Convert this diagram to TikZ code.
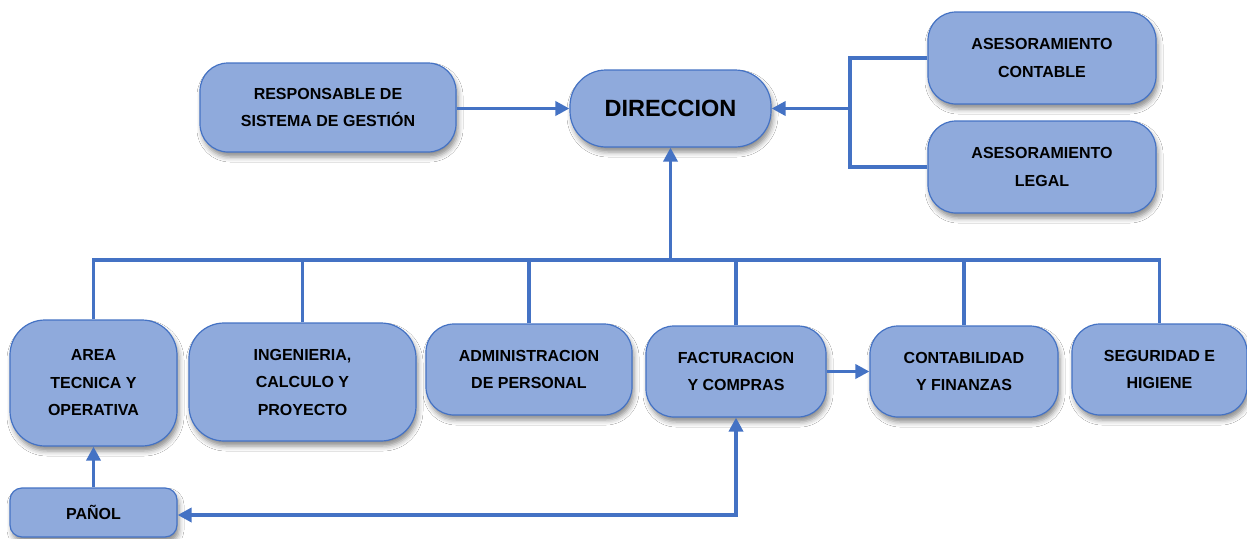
\documentclass[tikz,border=0pt]{standalone}
\usepackage{fontspec}
\setmainfont{Liberation Sans}
\usetikzlibrary{arrows.meta,shadows.blur}
\definecolor{boxfill}{HTML}{8FAADC}
\definecolor{boxline}{HTML}{4472C4}
\tikzset{
  box/.style={draw=boxline, line width=1.2pt, fill=boxfill, rounded corners=#1,
    align=center, inner sep=0pt,
    font=\bfseries\fontsize{16}{27.5}\selectfont,
    blur shadow={shadow xshift=2pt, shadow yshift=-5pt, shadow blur radius=5pt, shadow opacity=45}},
  box/.default=28pt,
  conn/.style={draw=boxline, line width=3.5pt},
  tip/.tip={Triangle[length=14pt,width=14pt]},
  arr/.style={conn, -tip},
}
\begin{document}
\begin{tikzpicture}[x=1pt,y=-1pt]
\useasboundingbox (0,0) rectangle (1247,538);
\fill[white] (0,0) rectangle (1247,538);
% nodes
\node[box, minimum width=256pt, minimum height=89pt] (resp) at (328,107.5) {RESPONSABLE DE\\SISTEMA DE GESTIÓN};
\node[box=36pt, minimum width=201pt, minimum height=77pt, font=\bfseries\fontsize{23.5}{28}\selectfont] (dir) at (670.5,108.5) {DIRECCION};
\node[box, minimum width=228pt, minimum height=92pt] (ac) at (1042,58) {ASESORAMIENTO\\CONTABLE};
\node[box, minimum width=228pt, minimum height=92pt] (al) at (1042,167) {ASESORAMIENTO\\LEGAL};
\node[box=35pt, minimum width=167pt, minimum height=126pt] (area) at (93.5,383) {AREA\\TECNICA Y\\OPERATIVA};
\node[box=35pt, minimum width=227pt, minimum height=118pt] (ing) at (302.5,382) {INGENIERIA,\\CALCULO Y\\PROYECTO};
\node[box, minimum width=206pt, minimum height=91pt] (adm) at (529,369.5) {ADMINISTRACION\\DE PERSONAL};
\node[box, minimum width=180pt, minimum height=91pt] (fac) at (736,371.5) {FACTURACION\\Y COMPRAS};
\node[box, minimum width=188pt, minimum height=91pt] (cont) at (964,371.5) {CONTABILIDAD\\Y FINANZAS};
\node[box, minimum width=175pt, minimum height=91pt] (seg) at (1159.5,369.5) {SEGURIDAD E\\HIGIENE};
\node[box=12pt, minimum width=167pt, minimum height=49pt] (panol) at (93.5,512.5) {PAÑOL};
% coordinates
\coordinate (br) at (850,108.5);
\coordinate (bus) at (670.5,260);
\coordinate (pf) at (736,515);
% connectors
\draw[arr] (resp.east |- dir.west) -- (dir.west);
\draw[conn] (ac.west) -| (br) |- (al.west);
\draw[arr] (br) -- (dir.east);
\draw[arr] (bus) -- (dir.south);
\draw[conn] (area.north) |- (bus) -| (seg.north);
\draw[conn] (ing.north) -- (ing.north |- bus);
\draw[conn] (adm.north) -- (adm.north |- bus);
\draw[conn] (fac.north) -- (fac.north |- bus);
\draw[conn] (cont.north) -- (cont.north |- bus);
\draw[arr] (panol.north) -- (area.south);
\draw[arr] (fac.east) -- (fac.east -| cont.west);
\draw[conn, tip-tip] (panol.east |- pf) -| (fac.south);
\end{tikzpicture}
\end{document}
